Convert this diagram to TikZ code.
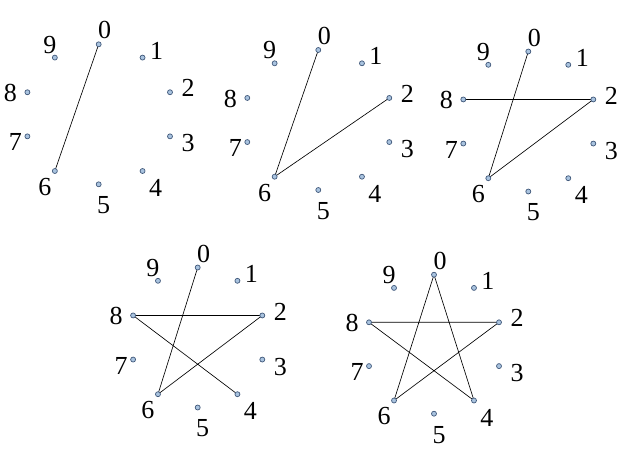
\documentclass[tikz,border=0pt]{standalone}
\usepackage{fontspec}
\setmainfont{Liberation Serif}
\definecolor{dotfill}{HTML}{A9C3DF}
\definecolor{dotline}{HTML}{40587A}
\tikzset{
  dotnode/.style={circle,draw=dotline,fill=dotfill,line width=0.7pt,minimum size=5pt,inner sep=0pt},
  digit/.style={inner sep=0pt,font=\fontsize{26}{26}\selectfont,text=black},
  edge/.style={draw=black,line width=0.65pt}
}
% #1 name, #2 cx, #3 cy, #4 horizontal radius, #5 vertical radius
\newcommand{\clockpoints}[5]{%
  \foreach \i/\fx/\fy/\lx/\ly in {0/0/-1/6/-14, 1/0.615/-0.81/14/-7, 2/1/-0.315/18/-4, 3/1/0.315/18/7, 4/0.615/0.81/13/17, 5/0/1/5/21, 6/-0.615/0.81/-10/16, 7/-1/0.315/-12/6, 8/-1/-0.315/-17/1, 9/-0.615/-0.81/-5/-13}{%
    \coordinate (#1-\i) at ({#2+\fx*#4},{#3+\fy*#5});
    \node[digit] (#1-l\i) at ({#2+\fx*#4+\lx},{#3+\fy*#5+\ly}) {\i};
  }%
}
\newcommand{\clockdots}[1]{%
  \foreach \i in {0,...,9}{\node[dotnode] (#1-d\i) at (#1-\i) {};}%
}
\begin{document}
\begin{tikzpicture}[x=1pt,y=-1pt]
\useasboundingbox (0,0) rectangle (623,458);
\clockpoints{a}{98.7}{114.3}{71.3}{70}
\clockpoints{b}{318.3}{120}{71}{70}
\clockpoints{c}{528.3}{121.5}{65}{70}
\clockpoints{d}{197.7}{337.5}{64.6}{70}
\clockpoints{e}{434}{344.2}{65}{69.5}
% edges
\draw[edge] (a-0) -- (a-6);
\draw[edge] (b-0) -- (b-6) -- (b-2);
\draw[edge] (c-0) -- (c-6) -- (c-2) -- (c-8);
\draw[edge] (d-0) -- (d-6) -- (d-2) -- (d-8) -- (d-4);
\draw[edge] (e-0) -- (e-6) -- (e-2) -- (e-8) -- (e-4) -- (e-0);
\clockdots{a}
\clockdots{b}
\clockdots{c}
\clockdots{d}
\clockdots{e}
\end{tikzpicture}
\end{document}
